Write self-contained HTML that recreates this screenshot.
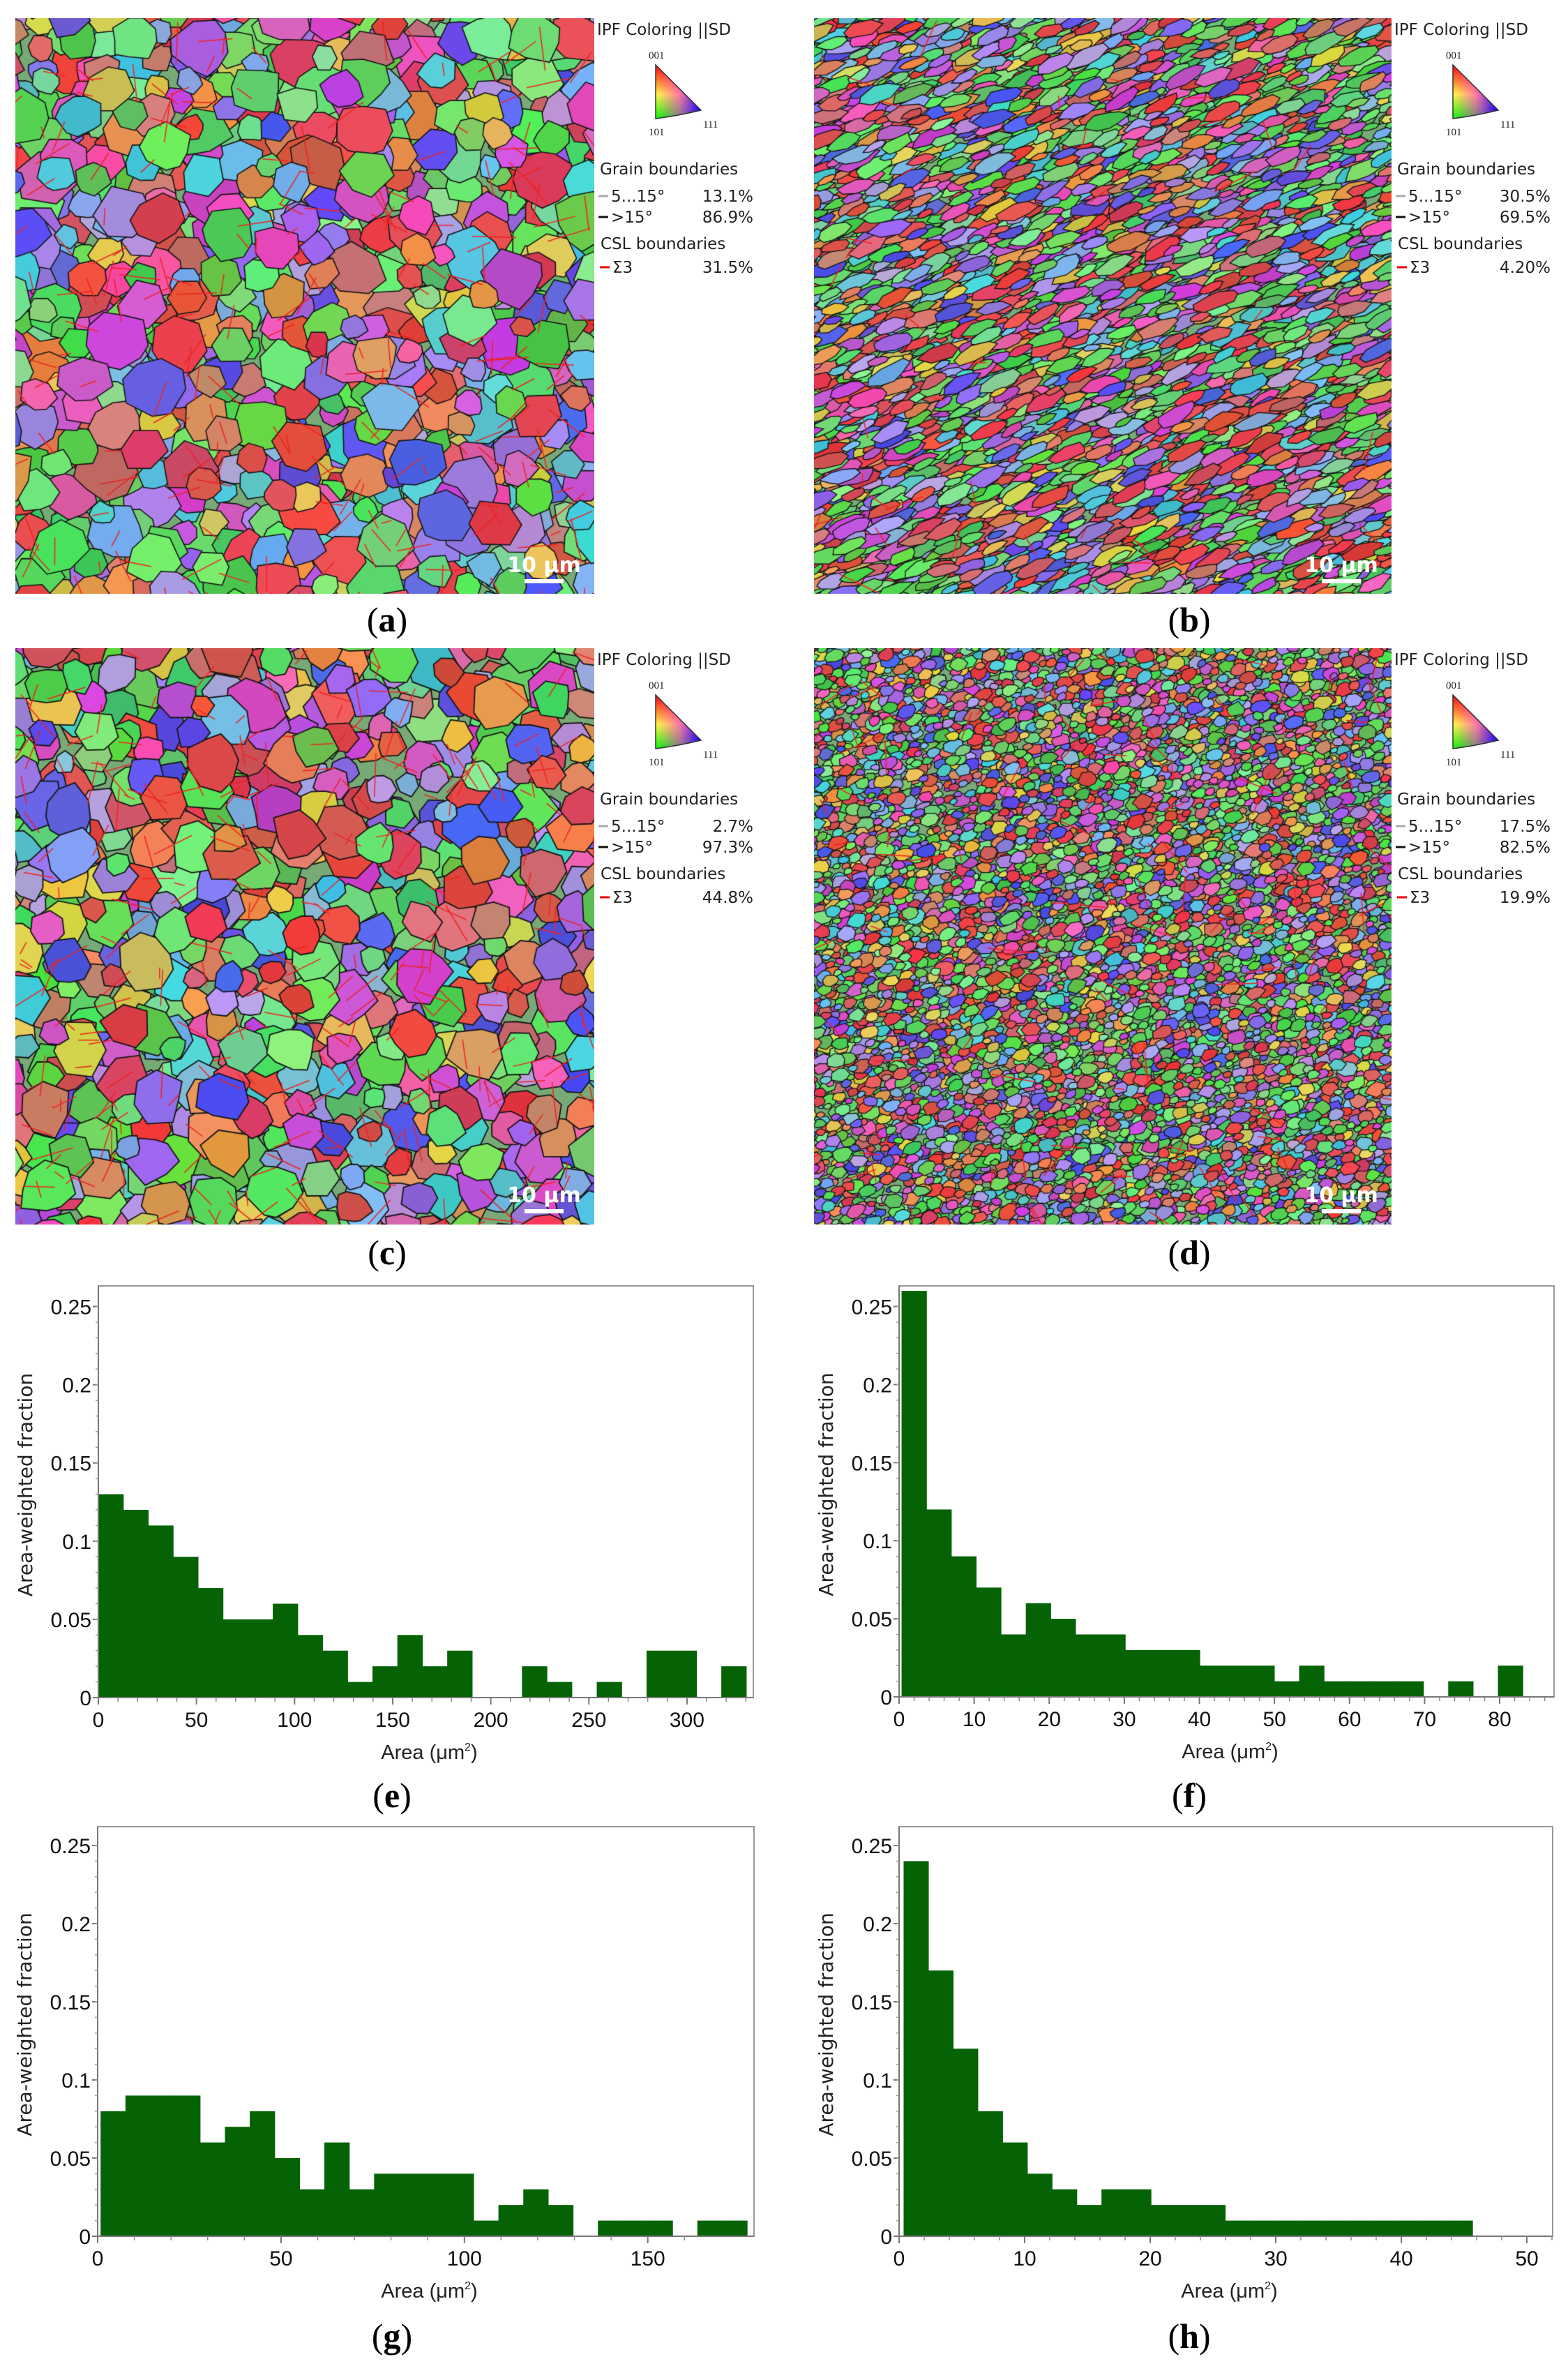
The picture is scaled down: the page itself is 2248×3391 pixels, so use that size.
<!DOCTYPE html>
<html><head><meta charset="utf-8">
<style>
html,body{margin:0;padding:0;background:#fff;}
body{width:2248px;height:3391px;position:relative;overflow:hidden;font-family:"Liberation Sans",sans-serif;}
canvas{position:absolute;}
svg{position:absolute;left:0;top:0;}
</style></head>
<body>
<canvas id="mapA" width="830" height="825" style="left:22px;top:26px"></canvas>
<canvas id="mapB" width="828" height="825" style="left:1167px;top:26px"></canvas>
<canvas id="mapC" width="830" height="826" style="left:22px;top:929px"></canvas>
<canvas id="mapD" width="828" height="826" style="left:1167px;top:929px"></canvas>
<svg id="fig" width="2248" height="3391" xmlns="http://www.w3.org/2000/svg">
<defs>
<linearGradient id="tg1" x1="0" y1="0" x2="0" y2="1"><stop offset="0" stop-color="#ff0000"/><stop offset="0.55" stop-color="#ffff40"/><stop offset="1" stop-color="#00ff00"/></linearGradient>
<linearGradient id="tg2" x1="0" y1="0" x2="1" y2="0"><stop offset="0" stop-color="#ff00ff" stop-opacity="0"/><stop offset="0.5" stop-color="#ff00ff" stop-opacity="0.5"/><stop offset="1" stop-color="#0000ff"/></linearGradient>
</defs>
</svg>
<script>
// ---------- histogram data ----------
const eValues=[0.13,0.12,0.11,0.09,0.07,0.05,0.05,0.06,0.04,0.03,0.01,0.02,0.04,0.02,0.03,0,0,0.02,0.01,0,0.01,0,0.03,0.03,0,0.02];
const eBin=[0,12.7];
const eTicks=[0,50,100,150,200,250,300];
const fValues=[0.26,0.12,0.09,0.07,0.04,0.06,0.05,0.04,0.04,0.03,0.03,0.03,0.02,0.02,0.02,0.01,0.02,0.01,0.01,0.01,0.01,0,0.01,0,0.02];
const fBin=[0.33,3.31];
const fTicks=[0,10,20,30,40,50,60,70,80];
const gValues=[0.08,0.09,0.09,0.09,0.06,0.07,0.08,0.05,0.03,0.06,0.03,0.04,0.04,0.04,0.04,0.01,0.02,0.03,0.02,0,0.01,0.01,0.01,0,0.01,0.01];
const gBin=[0.8,6.78];
const gTicks=[0,50,100,150];
const hValues=[0.24,0.17,0.12,0.08,0.06,0.04,0.03,0.02,0.03,0.03,0.02,0.02,0.02,0.01,0.01,0.01,0.01,0.01,0.01,0.01,0.01,0.01,0.01];
const hBin=[0.36,1.97];
const hTicks=[0,10,20,30,40,50];
const yTicks=[0,0.05,0.1,0.15,0.2,0.25];
const yTickLabels=["0","0.05","0.1","0.15","0.2","0.25"];
const legendA=["13.1%","86.9%","31.5%"];
const legendB=["30.5%","69.5%","4.20%"];
const legendC=["2.7%","97.3%","44.8%"];
const legendD=["17.5%","82.5%","19.9%"];

const NS="http://www.w3.org/2000/svg";
const svg=document.getElementById('fig');
function mk(tag,attrs,parent){const e=document.createElementNS(NS,tag);for(const k in attrs)e.setAttribute(k,attrs[k]);(parent||svg).appendChild(e);return e;}

function chart(name,geo,values,bin,xticks,xmax){
  const g=mk('g',{});
  
  
  const X=v=>geo.x0+v*(geo.x1-geo.x0)/xmax;
  const Y=v=>geo.y0-(v/0.25)*(geo.y0-geo.y25);
  const right=geo.right;
  const fr=mk('rect',{x:geo.x0,y:geo.top,width:right-geo.x0,height:geo.y0-geo.top,fill:'none',stroke:'#999','stroke-width':2},g);
  
  
  values.forEach((v,i)=>{
    if(v<=0)return;
    const a=bin[0]+i*bin[1],b=a+bin[1];
    const r=mk('rect',{x:X(a),y:Y(v),width:X(b)-X(a)+0.6,height:Y(0)-Y(v),fill:'#056305'},g);
    
    
  });
  mk('line',{x1:geo.x0,y1:geo.top,x2:geo.x0,y2:geo.y0+4,stroke:'#777','stroke-width':2},g);
  mk('line',{x1:geo.x0,y1:geo.y0,x2:right,y2:geo.y0,stroke:'#777','stroke-width':2},g);
  yTicks.forEach((t,i)=>{
    mk('line',{x1:geo.x0-8,y1:Y(t),x2:geo.x0,y2:Y(t),stroke:'#777','stroke-width':2},g);
    const tx=mk('text',{x:geo.x0-10,y:Y(t)+11,'text-anchor':'end','font-size':30,fill:'#111','font-family':'"Liberation Sans Narrow","Liberation Sans",sans-serif'},g);
    tx.textContent=yTickLabels[i];
    
    
  });
  for(let t=0.01;t<0.26;t+=0.01){mk('line',{x1:geo.x0-4,y1:Y(t),x2:geo.x0,y2:Y(t),stroke:'#999','stroke-width':1.5},g);}
  const step=xticks[1]-xticks[0];
  for(let t=0;t<=xmax*1.12;t+=step/5){if(X(t)<=right)mk('line',{x1:X(t),y1:geo.y0,x2:X(t),y2:geo.y0+6,stroke:'#888','stroke-width':1.5},g);}
  xticks.forEach(t=>{
    mk('line',{x1:X(t),y1:geo.y0,x2:X(t),y2:geo.y0+10,stroke:'#777','stroke-width':2},g);
    const tx=mk('text',{x:X(t),y:geo.y0+42,'text-anchor':'middle','font-size':30,fill:'#111','font-family':'"Liberation Sans Narrow","Liberation Sans",sans-serif'},g);
    tx.textContent=String(t);
    
    
  });
  const xt=mk('text',{x:(geo.x0+right)/2+5,y:geo.y0+88,'text-anchor':'middle','font-size':29,fill:'#222','font-family':'"Liberation Sans Narrow","Liberation Sans",sans-serif'},g);
  xt.innerHTML='Area (μm<tspan font-size="16" dy="-12">2</tspan><tspan dy="12">)</tspan>';
  
  
  const cy=(geo.top+geo.y0)/2-10;
  const yt=mk('text',{x:geo.x0-95,y:cy,'text-anchor':'middle','font-size':28,fill:'#222','font-family':'"DejaVu Sans",sans-serif',transform:`rotate(-90 ${geo.x0-95} ${cy})`},g);
  yt.textContent='Area-weighted fraction';
  
  
}
chart('histogram-e',{x0:141,x1:984.9,y0:2433,y25:1872.5,top:1843,right:1080},eValues,eBin,eTicks,300);
chart('histogram-f',{x0:1289,x1:2150,y0:2432,y25:1872.5,top:1843,right:2228},fValues,fBin,fTicks,80);
chart('histogram-g',{x0:140,x1:928.7,y0:3205,y25:2645,top:2618,right:1081},gValues,gBin,gTicks,150);
chart('histogram-h',{x0:1289,x1:2189,y0:3205,y25:2645,top:2618,right:2226},hValues,hBin,hTicks,50);

[['(a)',555,905],['(b)',1705,905],['(c)',555,1812],['(d)',1705,1812],['(e)',562,2590],['(f)',1705,2590],['(g)',562,3365],['(h)',1705,3365]].forEach(l=>{
  const t=mk('text',{x:l[1],y:l[2],'text-anchor':'middle','font-size':50,'font-family':'"Liberation Serif",serif',fill:'#000'});
  t.innerHTML='(<tspan font-weight="bold">'+l[0][1]+'</tspan>)';
  
  
});

function legend(mr,top,vals){
  const g=mk('g',{});
  
  
  const T=(x,y,s,fs,anchor,fam)=>{const t=mk('text',{x:x,y:y,'font-size':fs,fill:'#222','text-anchor':anchor||'start','font-family':fam||'"DejaVu Sans",sans-serif'},g);t.textContent=s;return t;};
  T(mr+4,top+24,'IPF Coloring ||SD',23);
  const d=`M${mr+88} ${top+67} L${mr+88} ${top+144} Q${mr+120} ${top+140} ${mr+153} ${top+132} Z`;
  mk('path',{d:d,fill:'url(#tg1)'},g);
  mk('path',{d:d,fill:'url(#tg2)',stroke:'#333','stroke-width':1.5},g);
  T(mr+78,top+58,'001',15,'start','"Liberation Serif",serif');
  T(mr+78,top+168,'101',15,'start','"Liberation Serif",serif');
  T(mr+156,top+157,'111',15,'start','"Liberation Serif",serif');
  T(mr+8,top+224,'Grain boundaries',23);
  mk('line',{x1:mr+6,y1:top+255,x2:mr+20,y2:top+255,stroke:'#aaa','stroke-width':3},g);
  T(mr+24,top+263,'5...15°',23); T(mr+228,top+263,vals[0],23,'end');
  mk('line',{x1:mr+6,y1:top+285,x2:mr+20,y2:top+285,stroke:'#111','stroke-width':3},g);
  T(mr+24,top+293,'>15°',23); T(mr+228,top+293,vals[1],23,'end');
  T(mr+9,top+331,'CSL boundaries',23);
  mk('line',{x1:mr+8,y1:top+357,x2:mr+22,y2:top+357,stroke:'#e00','stroke-width':3},g);
  T(mr+26,top+365,'Σ3',23); T(mr+228,top+365,vals[2],23,'end');
}
legend(852,26,legendA);legend(1995,26,legendB);legend(852,929,legendC);legend(1995,929,legendD);

[[22,26,830],[1167,26,828],[22,929,830],[1167,929,828]].forEach(p=>{
  const cx=p[0]+p[2]-72, by=p[1]+800;
  const t=mk('text',{x:cx,y:by-6,'text-anchor':'middle','font-size':30,'font-weight':'bold',fill:'#fff','font-family':'"DejaVu Sans",sans-serif'});
  t.textContent='10 μm';
  
  
  mk('rect',{x:cx-28,y:by+4,width:56,height:6,fill:'#fff'});
});

// ---------- EBSD maps (procedural texture) ----------
let s32=987654321;
function rnd(){s32|=0;s32=s32+0x6D2B79F5|0;let t=Math.imul(s32^s32>>>15,1|s32);t=t+Math.imul(t^t>>>7,61|t)^t;return((t^t>>>14)>>>0)/4294967296;}
const pal=[[230,70,70],[220,80,90],[90,210,80],[110,220,110],[80,200,90],[90,90,230],[150,110,230],[200,80,210],[230,90,180],[80,200,210],[120,180,230],[220,200,80],[230,140,80],[170,150,230],[210,120,110],[130,225,140],[100,220,100],[225,75,75]];
function col(){const c=pal[Math.floor(rnd()*pal.length)];const j=()=>Math.floor((rnd()-0.5)*40);return `rgb(${c[0]+j()},${c[1]+j()},${c[2]+j()})`;}
function grain(ctx,cx,cy,rx,ry,ang,lw){
  const n=6+Math.floor(rnd()*4);ctx.beginPath();
  for(let i=0;i<n;i++){const a=i/n*Math.PI*2+rnd()*0.3;const rr=0.8+rnd()*0.35;
    const x=Math.cos(a)*rx*rr,y=Math.sin(a)*ry*rr;
    const X=cx+x*Math.cos(ang)-y*Math.sin(ang),Y=cy+x*Math.sin(ang)+y*Math.cos(ang);
    i?ctx.lineTo(X,Y):ctx.moveTo(X,Y);}
  ctx.closePath();ctx.fillStyle=col();ctx.fill();ctx.lineWidth=lw;ctx.strokeStyle='#151515';ctx.stroke();
}
function drawMap(id,sx,sy,rx,ry,ang,twin,lw){
  const c=document.getElementById(id),ctx=c.getContext('2d');
  ctx.fillStyle='#7a7';ctx.fillRect(0,0,c.width,c.height);
  const W=c.width,H=c.height,D=Math.hypot(W,H);
  const cells=[];
  for(let v=-D/2;v<D/2;v+=sy)for(let u=-D/2;u<D/2;u+=sx){
    const uu=u+(rnd()-0.5)*sx*0.8,vv=v+(rnd()-0.5)*sy*0.8;
    const x=W/2+uu*Math.cos(ang)-vv*Math.sin(ang),y=H/2+uu*Math.sin(ang)+vv*Math.cos(ang);
    if(x>-rx*2&&x<W+rx*2&&y>-rx*2&&y<H+rx*2)cells.push([x,y]);
  }
  for(let i=cells.length-1;i>0;i--){const j=Math.floor(rnd()*(i+1));const t=cells[i];cells[i]=cells[j];cells[j]=t;}
  cells.forEach(p=>{const k=0.6+rnd()*0.9;grain(ctx,p[0],p[1],rx*k,ry*k,ang+(rnd()-0.5)*0.3,lw);});
  ctx.strokeStyle='#e22';ctx.lineWidth=1.5;
  for(let i=0;i<twin;i++){const x=rnd()*W,y=rnd()*H,a=rnd()*Math.PI,l=15+rnd()*50;
    ctx.beginPath();ctx.moveTo(x,y);ctx.lineTo(x+Math.cos(a)*l,y+Math.sin(a)*l);ctx.stroke();}
}
drawMap('mapA',34,34,30,28,0,220,1.6);
drawMap('mapB',26,10,22,8,-0.38,40,1.4);
drawMap('mapC',36,36,28,27,0,280,1.8);
drawMap('mapD',14,10,10,7,-0.3,110,1.3);
</script>
</body></html>
